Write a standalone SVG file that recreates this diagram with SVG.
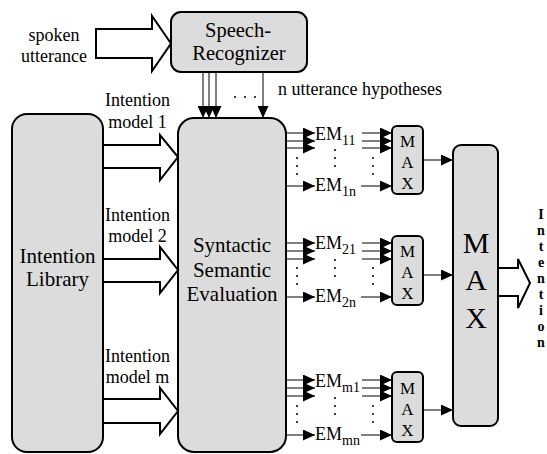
<svg xmlns="http://www.w3.org/2000/svg" width="547" height="454" viewBox="0 0 547 454" font-family="'Liberation Serif', 'Times New Roman', serif">
<style>
text{font-family:'Liberation Serif','Times New Roman',serif;fill:#000}
.box{fill:#dcdcdc;stroke:#000;stroke-width:2}
.hol{fill:#fff;stroke:#000;stroke-width:2;stroke-linejoin:miter}
.ln{stroke:#000;stroke-width:1;fill:none}
.t18{font-size:18px}
.t20{font-size:20.5px}
.t21{font-size:21px}
.mx{font-size:17px;text-anchor:middle}
.c{text-anchor:middle}
.dot{fill:#000}
.iv{font-size:14px;font-weight:bold;text-anchor:middle}
</style>
<defs>
<marker id="ah" markerUnits="userSpaceOnUse" markerWidth="12" markerHeight="11" refX="12" refY="5.5" orient="auto">
<path d="M0,0 L12,5.5 L0,11 z" fill="#000"/>
</marker>
</defs>

<g id="spoken-input">
<polygon class="hol" points="96,29 152,29 152,16 171,43.5 152,71 152,58 96,58"/>
<text class="t18 c" x="54" y="41">spoken</text>
<text class="t18 c" x="54" y="62">utterance</text>
</g>

<g id="speech-recognizer">
<rect class="box" x="171" y="12" width="136" height="60" rx="10"/>
<text class="t20 c" x="238" y="37">Speech-</text>
<text class="t20 c" x="239" y="60">Recognizer</text>
</g>

<g id="intention-library">
<rect class="box" x="12" y="114" width="91" height="338" rx="15"/>
<text class="t21 c" x="57.5" y="263">Intention</text>
<text class="t21 c" x="57.5" y="286">Library</text>
</g>

<g id="syntactic-semantic-evaluation">
<rect class="box" x="178" y="118" width="108" height="334" rx="16"/>
<text class="t21 c" x="232" y="252">Syntactic</text>
<text class="t21 c" x="232" y="277">Semantic</text>
<text class="t21 c" x="232" y="301">Evaluation</text>
</g>

<g id="max-1">
<rect class="box" x="392" y="126" width="31" height="68" rx="5"/>
<text class="mx" x="407.5" y="147">M</text>
<text class="mx" x="407.5" y="168">A</text>
<text class="mx" x="407.5" y="189">X</text>
</g>
<g id="max-2">
<rect class="box" x="392" y="236" width="31" height="69" rx="5"/>
<text class="mx" x="407.5" y="257">M</text>
<text class="mx" x="407.5" y="278">A</text>
<text class="mx" x="407.5" y="299">X</text>
</g>
<g id="max-m">
<rect class="box" x="392" y="372" width="31" height="70" rx="5"/>
<text class="mx" x="407.5" y="394">M</text>
<text class="mx" x="407.5" y="415">A</text>
<text class="mx" x="407.5" y="436">X</text>
</g>

<g id="max-final">
<rect class="box" x="453" y="145" width="45" height="281" rx="8"/>
<text class="c" style="font-size:30px" x="476" y="253">M</text>
<text class="c" style="font-size:30px" x="476" y="290">A</text>
<text class="c" style="font-size:30px" x="476" y="328">X</text>
</g>

<g id="intention-output">
<polygon class="hol" points="498,268 518,268 518,259 530,283 518,308 518,296 498,296"/>
<text class="iv" x="541" y="219">I</text>
<text class="iv" x="541" y="235">n</text>
<text class="iv" x="541" y="251">t</text>
<text class="iv" x="541" y="267">e</text>
<text class="iv" x="541" y="283">n</text>
<text class="iv" x="541" y="299">t</text>
<text class="iv" x="541" y="315">i</text>
<text class="iv" x="541" y="331">o</text>
<text class="iv" x="541" y="347">n</text>
</g>

<g id="connectors">
<line class="ln" x1="203" y1="72" x2="203" y2="118" marker-end="url(#ah)"/>
<line class="ln" x1="209" y1="72" x2="209" y2="118" marker-end="url(#ah)"/>
<line class="ln" x1="216" y1="72" x2="216" y2="118" marker-end="url(#ah)"/>
<line class="ln" x1="263" y1="72" x2="263" y2="118" marker-end="url(#ah)"/>
<circle class="dot" cx="235" cy="97" r="1"/>
<circle class="dot" cx="245" cy="97" r="1"/>
<circle class="dot" cx="255" cy="97" r="1"/>
<text class="t18" x="278" y="95">n utterance hypotheses</text>

<polygon class="hol" points="103,145 160,145 160,135 178,157 160,180 160,168 103,168"/>
<text class="t18 c" x="137.5" y="106">Intention</text>
<text class="t18 c" x="137.5" y="128">model 1</text>
<polygon class="hol" points="103,259 160,259 160,247 178,270 160,293 160,282 103,282"/>
<text class="t18 c" x="137.5" y="221">Intention</text>
<text class="t18 c" x="137.5" y="242">model 2</text>
<polygon class="hol" points="103,399 160,399 160,388 178,411 160,434 160,423 103,423"/>
<text class="t18 c" x="137.5" y="362">Intention</text>
<text class="t18 c" x="137.5" y="383">model m</text>

<line class="ln" x1="286" y1="133" x2="315" y2="133" marker-end="url(#ah)"/>
<line class="ln" x1="286" y1="141" x2="315" y2="141" marker-end="url(#ah)"/>
<line class="ln" x1="286" y1="148" x2="315" y2="148" marker-end="url(#ah)"/>
<line class="ln" x1="286" y1="186" x2="315" y2="186" marker-end="url(#ah)"/>
<text class="t18" x="315" y="140">EM<tspan font-size="14" dy="5">11</tspan></text>
<text class="t18" x="315" y="191">EM<tspan font-size="14" dy="5">1n</tspan></text>
<line class="ln" x1="362" y1="133" x2="392" y2="133" marker-end="url(#ah)"/>
<line class="ln" x1="362" y1="141" x2="392" y2="141" marker-end="url(#ah)"/>
<line class="ln" x1="362" y1="148" x2="392" y2="148" marker-end="url(#ah)"/>
<line class="ln" x1="361" y1="186" x2="392" y2="186" marker-end="url(#ah)"/>
<circle class="dot" cx="297" cy="158" r="1"/><circle class="dot" cx="297" cy="166" r="1"/><circle class="dot" cx="297" cy="174" r="1"/>
<circle class="dot" cx="335" cy="150" r="1"/><circle class="dot" cx="335" cy="158" r="1"/><circle class="dot" cx="335" cy="166" r="1"/>
<circle class="dot" cx="373" cy="158" r="1"/><circle class="dot" cx="373" cy="166" r="1"/><circle class="dot" cx="373" cy="174" r="1"/>
<line class="ln" x1="423" y1="160" x2="453" y2="160" marker-end="url(#ah)"/>

<line class="ln" x1="286" y1="243" x2="315" y2="243" marker-end="url(#ah)"/>
<line class="ln" x1="286" y1="251" x2="315" y2="251" marker-end="url(#ah)"/>
<line class="ln" x1="286" y1="259" x2="315" y2="259" marker-end="url(#ah)"/>
<line class="ln" x1="286" y1="297" x2="315" y2="297" marker-end="url(#ah)"/>
<text class="t18" x="315" y="249">EM<tspan font-size="14" dy="5">21</tspan></text>
<text class="t18" x="315" y="302">EM<tspan font-size="14" dy="5">2n</tspan></text>
<line class="ln" x1="362" y1="243" x2="392" y2="243" marker-end="url(#ah)"/>
<line class="ln" x1="362" y1="251" x2="392" y2="251" marker-end="url(#ah)"/>
<line class="ln" x1="362" y1="259" x2="392" y2="259" marker-end="url(#ah)"/>
<line class="ln" x1="361" y1="297" x2="392" y2="297" marker-end="url(#ah)"/>
<circle class="dot" cx="297" cy="268" r="1"/><circle class="dot" cx="297" cy="276" r="1"/><circle class="dot" cx="297" cy="284" r="1"/>
<circle class="dot" cx="335" cy="260" r="1"/><circle class="dot" cx="335" cy="268" r="1"/><circle class="dot" cx="335" cy="276" r="1"/>
<circle class="dot" cx="373" cy="268" r="1"/><circle class="dot" cx="373" cy="276" r="1"/><circle class="dot" cx="373" cy="284" r="1"/>
<line class="ln" x1="423" y1="275" x2="453" y2="275" marker-end="url(#ah)"/>

<line class="ln" x1="286" y1="380" x2="315" y2="380" marker-end="url(#ah)"/>
<line class="ln" x1="286" y1="388" x2="315" y2="388" marker-end="url(#ah)"/>
<line class="ln" x1="286" y1="396" x2="315" y2="396" marker-end="url(#ah)"/>
<line class="ln" x1="286" y1="435" x2="315" y2="435" marker-end="url(#ah)"/>
<text class="t18" x="315" y="387">EM<tspan font-size="14" dy="5">m1</tspan></text>
<text class="t18" x="315" y="440">EM<tspan font-size="14" dy="5">mn</tspan></text>
<line class="ln" x1="362" y1="380" x2="392" y2="380" marker-end="url(#ah)"/>
<line class="ln" x1="362" y1="388" x2="392" y2="388" marker-end="url(#ah)"/>
<line class="ln" x1="362" y1="396" x2="392" y2="396" marker-end="url(#ah)"/>
<line class="ln" x1="361" y1="435" x2="392" y2="435" marker-end="url(#ah)"/>
<circle class="dot" cx="297" cy="406" r="1"/><circle class="dot" cx="297" cy="414" r="1"/><circle class="dot" cx="297" cy="422" r="1"/>
<circle class="dot" cx="335" cy="398" r="1"/><circle class="dot" cx="335" cy="406" r="1"/><circle class="dot" cx="335" cy="414" r="1"/>
<circle class="dot" cx="373" cy="406" r="1"/><circle class="dot" cx="373" cy="414" r="1"/><circle class="dot" cx="373" cy="422" r="1"/>
<line class="ln" x1="423" y1="410" x2="453" y2="410" marker-end="url(#ah)"/>
</g>
</svg>
